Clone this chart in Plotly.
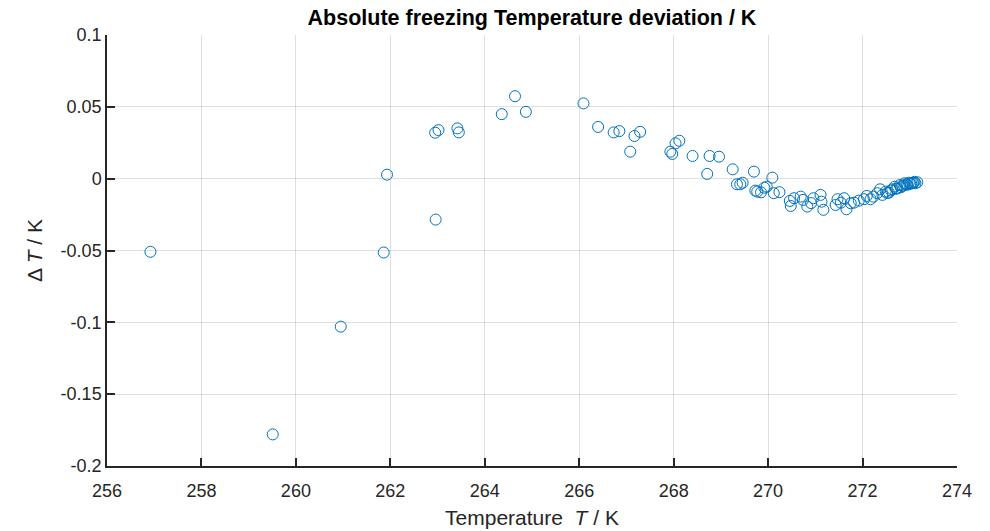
import plotly.graph_objects as go

# Data
temperature_K = [
    256.92, 259.51, 260.95, 261.86, 261.93, 262.96, 262.95, 263.02, 263.42, 263.45,
    264.36, 264.64, 264.87, 266.09, 266.40, 266.73, 266.85, 267.08, 267.17, 267.29,
    267.93, 267.97, 268.04, 268.12, 268.40, 268.71, 268.76, 268.96, 269.25, 269.34,
    269.41, 269.46, 269.70, 269.73, 269.77, 269.85, 269.92, 269.97, 270.09, 270.12,
    270.24, 270.46, 270.48, 270.55, 270.69, 270.74, 270.83, 270.91, 270.96, 271.11,
    271.13, 271.17, 271.43, 271.47, 271.54, 271.61, 271.66, 271.75, 271.82, 271.92,
    272.03, 272.09, 272.17, 272.23, 272.31, 272.37, 272.42, 272.49, 272.56, 272.63,
    272.68, 272.74, 272.79, 272.84, 272.89, 272.93, 272.98, 273.03, 273.08, 273.12,
    273.16, 273.10, 273.06, 273.01, 272.95, 272.87, 272.81, 272.71, 272.60, 272.52,
]
deviation_K = [
    -0.0509, -0.1780, -0.1030, -0.0514, 0.0028, -0.0285, 0.0320, 0.0338, 0.0350, 0.0322,
    0.0449, 0.0574, 0.0465, 0.0524, 0.0360, 0.0322, 0.0331, 0.0188, 0.0297, 0.0326,
    0.0188, 0.0172, 0.0246, 0.0264, 0.0158, 0.0033, 0.0158, 0.0153, 0.0065, -0.0039,
    -0.0039, -0.0028, 0.0049, -0.0083, -0.0090, -0.0095, -0.0063, -0.0056, 0.0007, -0.0101,
    -0.0094, -0.0155, -0.0190, -0.0136, -0.0125, -0.0148, -0.0194, -0.0170, -0.0136, -0.0113,
    -0.0160, -0.0217, -0.0183, -0.0143, -0.0167, -0.0136, -0.0213, -0.0171, -0.0167, -0.0153,
    -0.0143, -0.0120, -0.0143, -0.0125, -0.0101, -0.0074, -0.0113, -0.0090, -0.0097, -0.0074,
    -0.0056, -0.0067, -0.0044, -0.0051, -0.0032, -0.0039, -0.0028, -0.0032, -0.0028, -0.0032,
    -0.0025, -0.0022, -0.0030, -0.0036, -0.0042, -0.0047, -0.0060, -0.0070, -0.0082, -0.0100,
]

x_ticks = [256, 258, 260, 262, 264, 266, 268, 270, 272, 274]
y_ticks = [-0.2, -0.15, -0.1, -0.05, 0, 0.05, 0.1]
y_tick_labels = ["-0.2", "-0.15", "-0.1", "-0.05", "0", "0.05", "0.1"]

title_text = "<b>Absolute freezing Temperature deviation / K</b>"
x_title = "Temperature\u00a0 <i>T</i> / K"
y_title = "\u0394 <i>T</i> / K"

axis_color = "#262626"
grid_color = "rgba(38,38,38,0.15)"
marker_color = "#0072BD"
font_family = "Liberation Sans, Arial, sans-serif"

fig = go.Figure()
fig.add_trace(go.Scatter(
    x=temperature_K, y=deviation_K, mode="markers",
    marker=dict(symbol="circle-open", size=11, color=marker_color,
                line=dict(width=1, color=marker_color)),
    showlegend=False,
))

fig.update_layout(
    width=990, height=531,
    margin=dict(l=107, r=33, t=35, b=65),
    paper_bgcolor="white", plot_bgcolor="white",
    font=dict(family=font_family, color=axis_color, size=18),
    title=dict(text=title_text, x=(107 + 957) / 2 / 990, xanchor="center",
               y=1 - 17 / 531, yanchor="middle", automargin=False,
               font=dict(size=21.5, color="black", family=font_family)),
)
fig.update_xaxes(
    range=[256, 274], tickvals=x_ticks, ticktext=[str(v) for v in x_ticks],
    automargin=False,
    showgrid=True, gridcolor=grid_color, gridwidth=1,
    showline=True, linecolor=axis_color, linewidth=1.5, mirror=False,
    ticks="inside", ticklen=8, tickwidth=1.5, tickcolor=axis_color,
    ticklabelstandoff=8,
    zeroline=False, tickfont=dict(size=18, color=axis_color),
    title=dict(text=x_title, font=dict(size=21, color=axis_color), standoff=10),
)
fig.update_yaxes(
    range=[-0.2, 0.1], tickvals=y_ticks, ticktext=y_tick_labels,
    automargin=False,
    showgrid=True, gridcolor=grid_color, gridwidth=1,
    showline=True, linecolor=axis_color, linewidth=1.5, mirror=False,
    ticks="inside", ticklen=8, tickwidth=1.5, tickcolor=axis_color,
    zeroline=False, tickfont=dict(size=18, color=axis_color),
    title=dict(text=y_title, font=dict(size=21, color=axis_color), standoff=12),
)

fig.write_html("out.html")
